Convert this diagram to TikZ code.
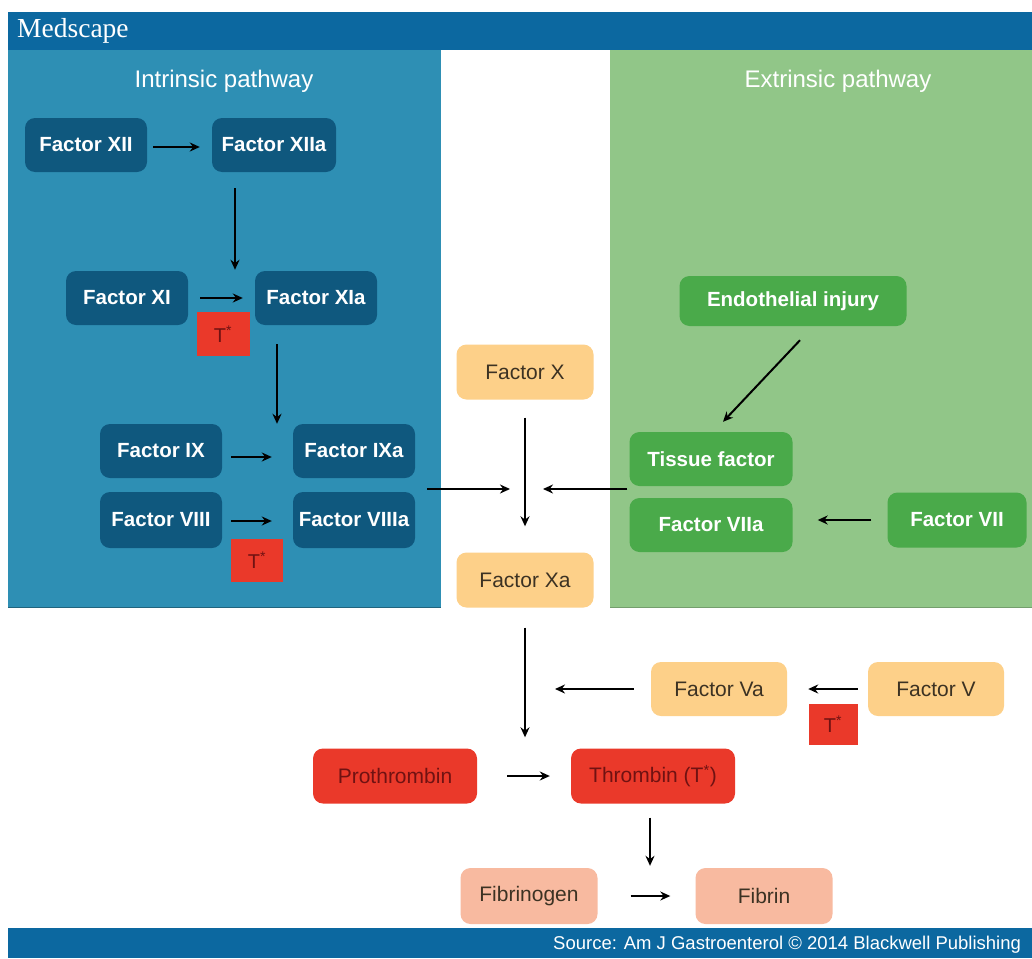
\documentclass[tikz,border=0pt]{standalone}
\usepackage{fontspec}
\setmainfont{Liberation Sans}
\newfontfamily\medfont{Liberation Serif}
\usetikzlibrary{arrows.meta}
\definecolor{hdrblue}{RGB}{12,104,160}
\definecolor{intrblue}{RGB}{46,143,180}
\definecolor{nodeblue}{RGB}{15,88,126}
\definecolor{extrgreen}{RGB}{145,198,136}
\definecolor{nodegreen}{RGB}{74,170,74}
\definecolor{lorange}{RGB}{253,208,137}
\definecolor{tred}{RGB}{234,57,42}
\definecolor{salmon}{RGB}{248,186,160}
\definecolor{darkred}{RGB}{112,18,18}
\definecolor{darktxt}{RGB}{60,50,35}
\tikzset{
  box/.style={rounded corners=10pt, minimum width=122pt, minimum height=54pt, inner sep=0pt, font=\fontsize{21}{25}\selectfont},
  bluebox/.style={box, fill=nodeblue, text=white, font=\fontsize{20.5}{24}\selectfont\bfseries},
  greenbox/.style={box, fill=nodegreen, text=white, font=\fontsize{20.5}{24}\selectfont\bfseries},
  orangebox/.style={box, fill=lorange, text=darktxt, minimum width=137pt},
  redbox/.style={box, fill=tred, text=darkred, minimum width=164pt},
  salbox/.style={box, fill=salmon, text=darktxt, minimum width=137pt},
  tstar/.style={fill=tred, text=darkred, inner sep=0pt, font=\fontsize{20}{22}\selectfont},
  arr/.style={line width=2pt, -{Stealth[length=10pt,width=9pt]}},
  title/.style={text=white, font=\fontsize{24}{28}\selectfont}
}
\begin{document}
\begin{tikzpicture}[x=1pt,y=-1pt]
\useasboundingbox (0,0) rectangle (1032,958);
\fill[white] (0,0) rectangle (1032,958);
% header and footer bars
\fill[hdrblue] (8,12) rectangle (1032,50);
\node[anchor=west, text=white, font=\medfont\fontsize{27.5}{30}\selectfont, inner sep=0pt] (med) at (17,31) {Medscape};
\fill[hdrblue] (8,928) rectangle (1032,958);
\node[anchor=west, text=white, font=\fontsize{18.5}{22}\selectfont, inner sep=0pt] (src) at (553,945) {Source: Am J Gastroenterol \textcopyright{} 2014 Blackwell Publishing};
% panels
\fill[intrblue] (8,50) rectangle (441,608);
\fill[extrgreen] (610,50) rectangle (1032,608);
\draw[intrblue!70!black, line width=1pt] (8,607.5) -- (441,607.5);
\draw[extrgreen!80!black, line width=1pt] (610,607.5) -- (1032,607.5);
\node[title] (ti) at (224,81) {Intrinsic pathway};
\node[title] (te) at (838,81) {Extrinsic pathway};
% intrinsic nodes
\node[bluebox] (f12) at (86,145) {Factor XII};
\node[bluebox, minimum width=124pt] (f12a) at (274,145) {Factor XIIa};
\node[bluebox] (f11) at (127,298) {Factor XI};
\node[bluebox] (f11a) at (316,298) {Factor XIa};
\node[bluebox] (f9) at (161,451) {Factor IX};
\node[bluebox] (f9a) at (354,451) {Factor IXa};
\node[bluebox, minimum height=56pt] (f8) at (161,520) {Factor VIII};
\node[bluebox, minimum height=56pt] (f8a) at (354,520) {Factor VIIIa};
\node[tstar, minimum width=53pt, minimum height=44pt] (t1) at (223,334) {T\textsuperscript{*}};
\node[tstar, minimum width=52pt, minimum height=43pt] (t2) at (257,560) {T\textsuperscript{*}};
% common pathway
\node[orangebox, minimum height=55pt] (fx) at (525,372) {Factor X};
\node[orangebox, minimum height=55pt] (fxa) at (525,580) {Factor Xa};
\node[orangebox, minimum width=136pt] (fva) at (719,689) {Factor Va};
\node[orangebox, minimum width=136pt] (fv) at (936,689) {Factor V};
\node[tstar, minimum width=49pt, minimum height=41pt] (t3) at (833,724) {T\textsuperscript{*}};
\node[redbox, minimum height=55pt] (pro) at (395,776) {Prothrombin};
\node[redbox, minimum height=55pt] (thr) at (653,776) {Thrombin (T\textsuperscript{*})};
\node[salbox, minimum height=56pt] (fbg) at (529,896) {Fibrinogen};
\node[salbox, minimum height=56pt] (fib) at (764,896) {Fibrin};
% extrinsic nodes
\node[greenbox, minimum width=227pt, minimum height=50pt] (ei) at (793,301) {Endothelial injury};
\node[greenbox, minimum width=163pt] (tf) at (711,459) {Tissue factor};
\node[greenbox, minimum width=163pt] (f7a) at (711,525) {Factor VIIa};
\node[greenbox, minimum width=139pt, minimum height=55pt] (f7) at (957,520) {Factor VII};
% helper coordinates
\coordinate (x235) at (235,0);
\coordinate (x277) at (277,0);
\coordinate (jn) at (525,489);
\coordinate (inout) at (427,489);
% arrows
\draw[arr, shorten <=6pt, shorten >=12pt] ([yshift=-2pt]f12.east) -- ([yshift=-2pt]f12a.west);
\draw[arr, shorten <=16pt, shorten >=1pt] (f12a.south -| x235) -- (f11a.north -| x235);
\draw[arr, shorten <=12pt, shorten >=12pt] (f11.east) -- (f11a.west);
\draw[arr, shorten <=19pt] (f11a.south -| x277) -- (f9a.north -| x277);
\draw[arr, shorten <=9pt, shorten >=21pt] ([yshift=-6pt]f9.east) -- ([yshift=-6pt]f9a.west);
\draw[arr, shorten <=9pt, shorten >=21pt] ([yshift=-1pt]f8.east) -- ([yshift=-1pt]f8a.west);
\draw[arr, shorten >=15pt] (inout) -- (jn);
\draw[arr, shorten <=18pt, shorten >=26pt] (fx.south) -- (fxa.north);
\draw[arr, shorten <=2pt, shorten >=18pt] (tf.west |- jn) -- (jn);
\draw[arr] ([xshift=7pt,yshift=-14pt]ei.south) -- ([xshift=12pt,yshift=10pt]tf.north);
\draw[arr, shorten <=16pt, shorten >=25pt] (f7.west) -- (f7a.east |- f7.west);
\draw[arr, shorten <=20pt, shorten >=11pt] (fxa.south) -- (fxa.south |- thr.north);
\draw[arr, shorten <=10pt, shorten >=21pt] (fv.west) -- (fva.east);
\draw[arr, shorten <=17pt, shorten >=30pt] (fva.west) -- (fxa.south |- fva.west);
\draw[arr, shorten <=30pt, shorten >=21pt] (pro.east) -- (thr.west);
\draw[arr, shorten <=14pt, shorten >=2pt] ([xshift=-3pt]thr.south) -- ([xshift=-3pt]thr.south |- fib.north);
\draw[arr, shorten <=33pt, shorten >=25pt] (fbg.east) -- (fib.west);
\end{tikzpicture}
\end{document}
